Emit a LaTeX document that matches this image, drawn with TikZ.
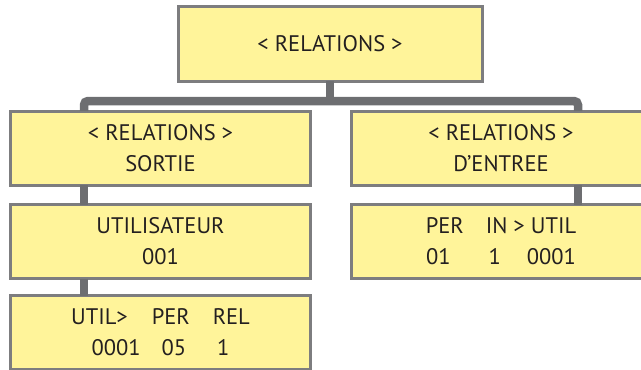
\documentclass[tikz,border=0pt]{standalone}
\usepackage{fontspec}
\setmainfont{PT Sans}
\definecolor{boxfill}{HTML}{FFF49A}
\definecolor{boxline}{HTML}{7D7D7F}
\definecolor{connline}{HTML}{6D6E71}
\definecolor{txt}{HTML}{231F20}
\begin{document}
\begin{tikzpicture}[x=1pt,y=-1pt,
  box/.style={draw=boxline, line width=3pt, fill=boxfill, text=txt, align=center,
    inner sep=0pt, outer sep=0pt, font=\fontsize{22.5}{31}\selectfont},
  conn/.style={draw=connline, line width=8.5pt}]
\useasboundingbox (0,0) rectangle (641,370);
\clip (0,0) rectangle (641,370);
\coordinate (barL) at (84,101);
\coordinate (barR) at (578,101);
\node[box, minimum width=304pt, minimum height=75pt] (top) at (330,43.5) {< RELATIONS >};
\node[box, minimum width=300pt, minimum height=74pt] (s1) at (160.5,148) {< RELATIONS >\\SORTIE};
\node[box, minimum width=300pt, minimum height=74pt] (e1) at (501,148) {< RELATIONS >\\D’ENTREE};
\node[box, minimum width=300pt, minimum height=74pt] (s2) at (160.5,241.5) {UTILISATEUR\\001};
\node[box, minimum width=300pt, minimum height=74pt] (e2) at (501,241.5) {PER\hspace{22pt}IN > UTIL\\01\hspace{38pt}1\hspace{26pt}0001};
\node[box, minimum width=300pt, minimum height=74pt] (s3) at (160.5,332.5) {UTIL>\hspace{24pt}PER\hspace{23pt}REL\\0001\hspace{21pt}05\hspace{31pt}1};
\draw[conn] (top.south) -- (top.south |- barL);
\draw[conn, rounded corners=4pt] (barL |- s1.north) -- (barL) -- (barR) -- (barR |- e1.north);
\draw[conn] (barL |- s1.south) -- (barL |- s2.north);
\draw[conn] (barL |- s2.south) -- (barL |- s3.north);
\draw[conn] (barR |- e1.south) -- (barR |- e2.north);
\end{tikzpicture}
\end{document}
